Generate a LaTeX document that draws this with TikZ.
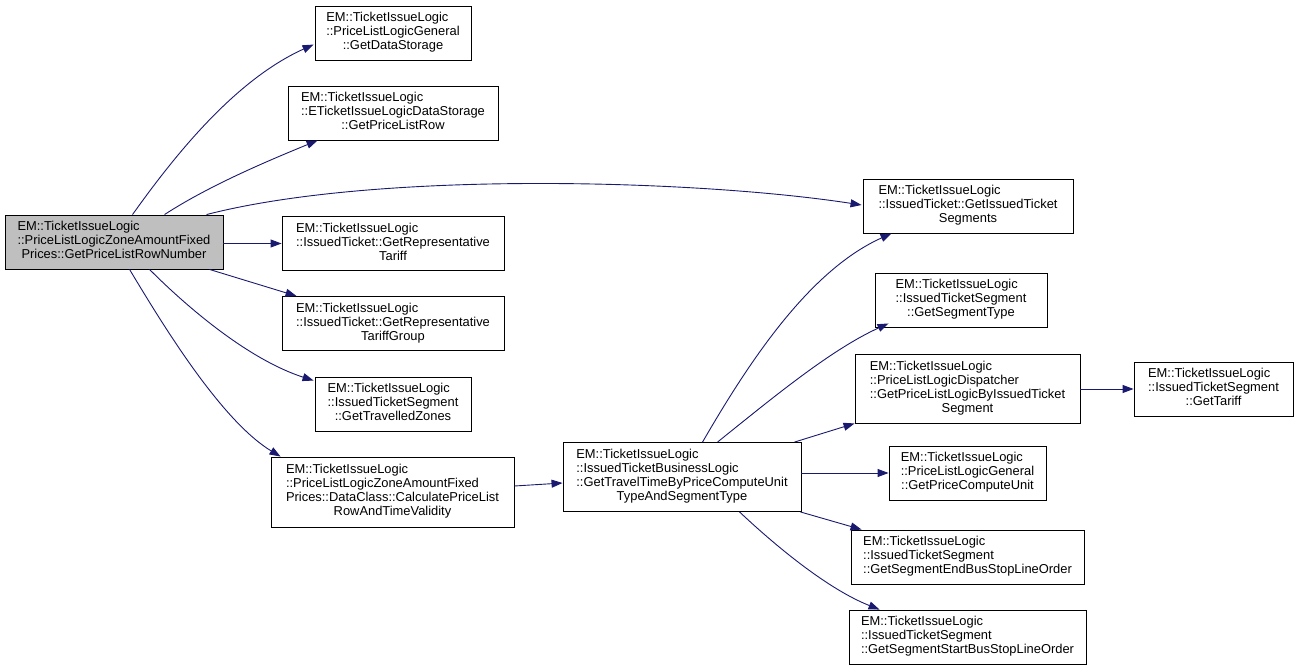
\documentclass[tikz,border=0pt]{standalone}
\usepackage{fontspec}
\setmainfont{Liberation Sans}
\usetikzlibrary{arrows.meta,calc}
\definecolor{edgeblue}{HTML}{191970}
\definecolor{mainfill}{HTML}{BFBFBF}
\newcommand{\dxA}[3]{\begin{tabular}{@{}l@{}}#1\\#2\\\multicolumn{1}{@{}c@{}}{#3}\end{tabular}}
\newcommand{\dxB}[4]{\begin{tabular}{@{}l@{}}#1\\#2\\#3\\\multicolumn{1}{@{}c@{}}{#4}\end{tabular}}
\tikzset{
  dbox/.style={draw=black, line width=0.9bp, inner sep=0pt, font=\fontsize{12.9bp}{14bp}\selectfont, text=black},
  mainbox/.style={dbox, fill=mainfill},
  call/.style={draw=edgeblue, line width=0.9bp, -{Triangle[length=11bp,width=8bp]}, fill=none}
}
\begin{document}
\begin{tikzpicture}[x=1bp,y=-1bp]
\useasboundingbox (0,0) rectangle (1297,671);
\node[mainbox, minimum width=218bp, minimum height=54bp] (main) at (114,242) {\dxA{EM::TicketIssueLogic}{::PriceListLogicZoneAmountFixed}{Prices::GetPriceListRowNumber}};
\node[dbox, minimum width=156bp, minimum height=54bp] (n1) at (393,33) {\dxA{EM::TicketIssueLogic}{::PriceListLogicGeneral}{::GetDataStorage}};
\node[dbox, minimum width=210bp, minimum height=54bp] (n2) at (393,113) {\dxA{EM::TicketIssueLogic}{::ETicketIssueLogicDataStorage}{::GetPriceListRow}};
\node[dbox, minimum width=210bp, minimum height=54bp] (n3) at (968,206) {\dxA{EM::TicketIssueLogic}{::IssuedTicket::GetIssuedTicket}{Segments}};
\node[dbox, minimum width=222bp, minimum height=54bp] (n4) at (393,243.5) {\dxA{EM::TicketIssueLogic}{::IssuedTicket::GetRepresentative}{Tariff}};
\node[dbox, minimum width=222bp, minimum height=54bp] (n5) at (393,323.5) {\dxA{EM::TicketIssueLogic}{::IssuedTicket::GetRepresentative}{TariffGroup}};
\node[dbox, minimum width=156bp, minimum height=54bp] (n6) at (393,404) {\dxA{EM::TicketIssueLogic}{::IssuedTicketSegment}{::GetTravelledZones}};
\node[dbox, minimum width=243bp, minimum height=70bp] (n7) at (392.5,492) {\dxB{EM::TicketIssueLogic}{::PriceListLogicZoneAmountFixed}{Prices::DataClass::CalculatePriceList}{RowAndTimeValidity}};
\node[dbox, minimum width=238bp, minimum height=69bp] (n8) at (682,477) {\dxB{EM::TicketIssueLogic}{::IssuedTicketBusinessLogic}{::GetTravelTimeByPriceComputeUnit}{TypeAndSegmentType}};
\node[dbox, minimum width=172bp, minimum height=54bp] (n9) at (961,300) {\dxA{EM::TicketIssueLogic}{::IssuedTicketSegment}{::GetSegmentType}};
\node[dbox, minimum width=225bp, minimum height=69bp] (n10) at (967.5,388.5) {\dxB{EM::TicketIssueLogic}{::PriceListLogicDispatcher}{::GetPriceListLogicByIssuedTicket}{Segment}};
\node[dbox, minimum width=157bp, minimum height=54bp] (n11) at (967.5,473) {\dxA{EM::TicketIssueLogic}{::PriceListLogicGeneral}{::GetPriceComputeUnit}};
\node[dbox, minimum width=233bp, minimum height=54bp] (n12) at (967.5,557) {\dxA{EM::TicketIssueLogic}{::IssuedTicketSegment}{::GetSegmentEndBusStopLineOrder}};
\node[dbox, minimum width=237bp, minimum height=54bp] (n13) at (967.5,637) {\dxA{EM::TicketIssueLogic}{::IssuedTicketSegment}{::GetSegmentStartBusStopLineOrder}};
\node[dbox, minimum width=159bp, minimum height=54bp] (n14) at (1213.5,389) {\dxA{EM::TicketIssueLogic}{::IssuedTicketSegment}{::GetTariff}};
% edges from main
\draw[call] ($(main.north west)+(128,0)$) .. controls (175,155) and (235,80) .. ($(n1.north west)+(-1,39)$);
\draw[call] ($(main.north west)+(160,0)$) .. controls (210,185) and (270,160) .. ($(n2.south west)+(30,0)$);
\draw[call] ($(main.north west)+(202,0)$) .. controls (380,170) and (700,180) .. ($(n3.west)+(-1,-1)$);
\draw[call] (main.east |- n4.west) -- (n4.west);
\draw[call] ($(main.south west)+(205,0)$) -- ($(n5.north west)+(15,0)$);
\draw[call] ($(main.south west)+(145,0)$) .. controls (190,310) and (250,360) .. ($(n6.north west)+(-1,4)$);
\draw[call] ($(main.south west)+(125,0)$) .. controls (160,320) and (220,420) .. ($(n7.north west)+(10,0)$);
\draw[call] ($(n7.east)+(0,-6)$) -- ($(n8.west)+(0,6)$);
% edges from n8
\draw[call] ($(n8.north west)+(140,0)$) .. controls (750,360) and (810,270) .. ($(n3.south west)+(29,0)$);
\draw[call] ($(n8.north west)+(155,0)$) .. controls (770,400) and (830,350) .. ($(n9.south west)+(14,-4)$);
\draw[call] ($(n8.north west)+(232,0)$) -- ($(n10.south west)+(0,0)$);
\draw[call] (n8.east |- n11.west) -- (n11.west);
\draw[call] ($(n8.south east)+(-1,0)$) -- ($(n12.north west)+(11,0)$);
\draw[call] ($(n8.south west)+(177,0)$) .. controls (780,550) and (830,590) .. ($(n13.north west)+(31,0)$);
\draw[call] (n10.east |- n14.west) -- (n14.west);
\end{tikzpicture}
\end{document}
